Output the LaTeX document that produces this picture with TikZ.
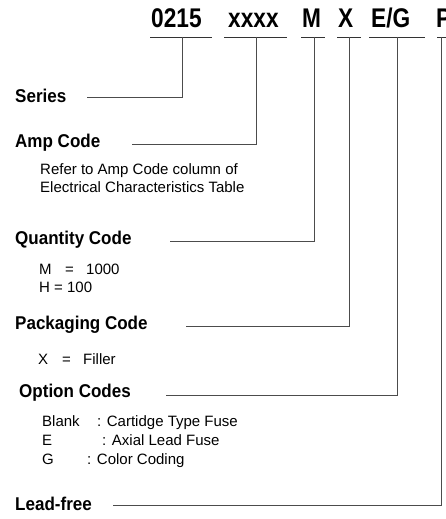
\documentclass[tikz,border=0pt]{standalone}
\usepackage{fontspec}
\setmainfont{Liberation Sans}
\newfontfamily\codefont{Liberation Sans}[FakeStretch=0.84]
\newfontfamily\lblfont{Liberation Sans}[FakeStretch=0.92]
\usetikzlibrary{positioning}

\begin{document}
\begin{tikzpicture}[x=1pt, y=-1pt,
      code/.style={font=\codefont\fontsize{27}{30}\selectfont\bfseries, inner sep=0pt, anchor=base west},
      lbl/.style={font=\lblfont\fontsize{18.5}{20}\selectfont\bfseries, inner sep=0pt, anchor=west},
      note/.style={font=\fontsize{15}{18}\selectfont, inner sep=0pt, anchor=base west, align=left},
      uline/.style={draw=black!80, line width=0.9pt},
      conn/.style={draw=black!70, line width=0.9pt}]

\useasboundingbox (0,0) rectangle (445,519);

% part number
\node[code] (c0215) at (151,28) {0215};
\node[code] (camp) at (228,28) {xxxx};
\node[code] (cqty) at (302,28) {M};
\node[code] (cpack) at (338,28) {X};
\node[code] (copt) at (371,28) {E/G};
\node[code] (clead) at (436,28) {P};

% underlines
\coordinate (u0215) at (182,37);
\coordinate (uamp) at (256,37);
\coordinate (uqty) at (314,37);
\coordinate (upack) at (349,37);
\coordinate (uopt) at (397,37);
\coordinate (ulead) at (441,37);
\draw[uline] (150,37) -- (212,37);
\draw[uline] (224,37) -- (287,37);
\draw[uline] (301,37) -- (325,37);
\draw[uline] (337,37) -- (361,37);
\draw[uline] (369,37) -- (425,37);
\draw[uline] (437,37) -- (447,37);

% labels
\node[lbl] (series) at (15,96) {Series};
\node[lbl] (amp) at (15,143) {Amp Code};
\node[note, anchor=west] (ampnote) at (40,178) {Refer to Amp Code column of\\Electrical Characteristics Table};
\node[lbl] (qty) at (15,240) {Quantity Code};
\node[note] (qtym) at (39,274) {\makebox[26pt][l]{M}\makebox[21pt][l]{=}1000};
\node[note] (qtyh) at (39,292) {H = 100};
\node[lbl] (pack) at (15,325) {Packaging Code};
\node[note] (packx) at (38,364) {\makebox[24pt][l]{X}\makebox[21pt][l]{=}Filler};
\node[lbl] (opt) at (19,393) {Option Codes};
\node[note] (optb) at (42,426) {\makebox[55pt][l]{Blank}: Cartidge Type Fuse};
\node[note] (opte) at (42,445) {\makebox[60pt][l]{E}: Axial Lead Fuse};
\node[note] (optg) at (42,464) {\makebox[45pt][l]{G}: Color Coding};
\node[lbl] (lead) at (15,504) {Lead-free};

% line ends left of the codes
\coordinate (lseries) at (87,97);
\coordinate (lamp) at (132,144);
\coordinate (lqty) at (170,241);
\coordinate (lpack) at (186,326);
\coordinate (lopt) at (166,395);
\coordinate (llead) at (113,505);

% connectors
\draw[conn] (u0215) |- (lseries);
\draw[conn] (uamp) |- (lamp);
\draw[conn] (uqty) |- (lqty);
\draw[conn] (upack) |- (lpack);
\draw[conn] (uopt) |- (lopt);
\draw[conn] (ulead) |- (llead);

\end{tikzpicture}
\end{document}
